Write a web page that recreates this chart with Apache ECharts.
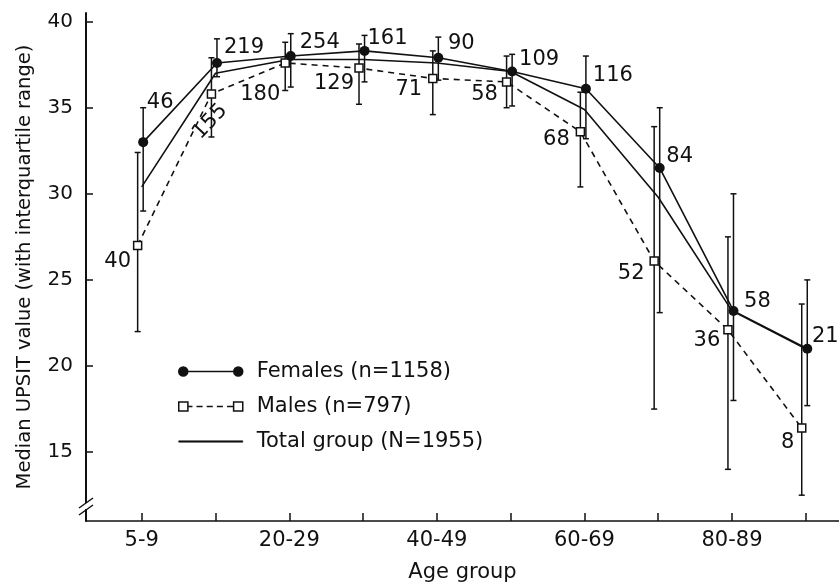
<!DOCTYPE html>
<html>
<head>
<meta charset="utf-8">
<script src="https://cdn.jsdelivr.net/npm/echarts@6/dist/echarts.min.js"></script>
<style>
html,body{margin:0;padding:0;background:#fff;}
#chart{width:839px;height:588px;}
</style>
</head>
<body>
<div id="chart"></div>
<script>
const categories = ['5-9','10-19','20-29','30-39','40-49','50-59','60-69','70-79','80-89','90+'];
const xTickLabels = ['5-9','20-29','40-49','60-69','80-89'];
const yTicks = [15,20,25,30,35,40];

const femaleMedian = [33.0, 37.6, 38.0, 38.3, 37.9, 37.1, 36.1, 31.5, 23.2, 21.0];
const femaleQ1     = [29.0, 36.8, 36.2, 36.5, 36.6, 35.1, 33.2, 23.1, 18.0, 17.7];
const femaleQ3     = [35.0, 39.0, 39.3, 39.2, 39.1, 38.1, 38.0, 35.0, 30.0, 25.0];
const femaleN      = [46, 219, 254, 161, 90, 109, 116, 84, 58, 21];

const maleMedian = [27.0, 35.8, 37.6, 37.3, 36.7, 36.5, 33.6, 26.1, 22.1, 16.4];
const maleQ1     = [22.0, 33.3, 36.0, 35.2, 34.6, 35.0, 30.4, 17.5, 14.0, 12.5];
const maleQ3     = [32.4, 37.9, 38.8, 38.7, 38.3, 38.0, 35.9, 33.9, 27.5, 23.6];
const maleN      = [40, 155, 180, 129, 71, 58, 68, 52, 36, 8];

const totalMedian = [30.4, 37.0, 37.8, 37.8, 37.6, 37.1, 34.9, 29.8, 23.2, 21.0];

// ---- styling (kept apart from the data) ----
const FONT = 'DejaVu Sans';
const INK = '#111';
const femaleShift = 0.02, maleShift = -0.055;
const femaleLabelOffset = [[17,-40],[27,-15],[29,-14],[23,-12],[23,-14],[27,-12],[27,-13],[20,-11],[24,-9],[18,-12]];
const maleLabelOffset = [[-20,16],[-21,18],[-25,32],[-25,15],[-24,11],[-22,13],[-24,8],[-23,13],[-21,11],[-14,15]];
const maleLabelRotate = [0,47,0,0,0,0,0,0,0,0];

const femaleName = 'Females (n=1158)';
const maleName = 'Males (n=797)';
const totalName = 'Total group (N=1955)';

function errorBarRender(params, api) {
  const x = api.value(0), lo = api.value(1), hi = api.value(2);
  const a = api.coord([x, lo]), b = api.coord([x, hi]);
  const cap = 3;
  const st = {stroke: INK, lineWidth: 1.5};
  return {type:'group', children:[
    {type:'line', shape:{x1:a[0], y1:a[1], x2:b[0], y2:b[1]}, style:st},
    {type:'line', shape:{x1:a[0]-cap, y1:a[1], x2:a[0]+cap, y2:a[1]}, style:st},
    {type:'line', shape:{x1:b[0]-cap, y1:b[1], x2:b[0]+cap, y2:b[1]}, style:st}
  ]};
}

const femaleData = femaleMedian.map((v,i) => ({
  value:[i+femaleShift, v],
  label:{offset: femaleLabelOffset[i]}
}));
const maleData = maleMedian.map((v,i) => ({
  value:[i+maleShift, v],
  label:{offset: maleLabelOffset[i], rotate: maleLabelRotate[i]}
}));
const totalData = totalMedian.map((v,i) => [i, v]);
const femaleBars = femaleQ1.map((q,i) => [i+femaleShift, q, femaleQ3[i]]);
const maleBars = maleQ1.map((q,i) => [i+maleShift, q, maleQ3[i]]);

const labelStyle = {show:true, position:'inside', color:INK, fontFamily:FONT, fontSize:21, align:'center', verticalAlign:'middle'};

const chart = echarts.init(document.getElementById('chart'), null, {renderer:'canvas'});
chart.setOption({
  animation:false,
  backgroundColor:'#fff',
  textStyle:{fontFamily:FONT, color:INK},
  grid:{left:86, right:0, top:13, bottom:65, containLabel:false},
  legend:{
    orient:'vertical', left:173, top:356, itemWidth:64, itemHeight:10, itemGap:14,
    textStyle:{fontFamily:FONT, fontSize:21, color:INK, padding:[0,0,0,9]},
    data:[
      {name:femaleName, icon:'path://M0,5A4.5,4.5 0 1,0 9,5A4.5,4.5 0 1,0 0,5ZM9,5L55,5M55,5A4.5,4.5 0 1,0 64,5A4.5,4.5 0 1,0 55,5Z',
        itemStyle:{color:INK, borderColor:INK, borderWidth:1.5}},
      {name:maleName, icon:'path://M0.5,0.5L9.5,0.5L9.5,9.5L0.5,9.5ZM9.5,5L14,5M18,5L24,5M28,5L34,5M38,5L44,5M48,5L54.5,5M54.5,0.5L63.5,0.5L63.5,9.5L54.5,9.5Z',
        itemStyle:{color:'#fff', borderColor:INK, borderWidth:1.5}},
      {name:totalName, icon:'path://M4,4.4L60,4.4L60,5.6L4,5.6Z',
        itemStyle:{color:INK, borderColor:INK, borderWidth:0.6}}
    ]
  },
  xAxis:{
    type:'value', min:-0.755, max:9.45,
    name:'Age group', nameLocation:'middle', nameGap:41,
    nameTextStyle:{fontFamily:FONT, fontSize:21, color:INK},
    axisLine:{show:true, onZero:false, lineStyle:{color:INK, width:1.5}},
    axisTick:{show:true, inside:true, length:8, customValues:categories.map((c,i)=>i), lineStyle:{color:INK, width:1.5}},
    axisLabel:{customValues:xTickLabels.map(t=>categories.indexOf(t)), formatter:v=>categories[Math.round(v)],
      fontFamily:FONT, fontSize:21, color:INK, margin:9},
    splitLine:{show:false}
  },
  yAxis:{
    type:'value', min:11, max:40.5,
    name:'Median UPSIT value (with interquartile range)', nameLocation:'middle', nameGap:51,
    nameTextStyle:{fontFamily:FONT, fontSize:19.5, color:INK},
    axisLine:{show:true, onZero:false, lineStyle:{color:INK, width:2}},
    axisTick:{show:true, inside:true, length:7, customValues:yTicks, lineStyle:{color:INK, width:1.5}},
    axisLabel:{customValues:yTicks, fontFamily:FONT, fontSize:20, color:INK, margin:13},
    splitLine:{show:false}
  },
  graphic:[
    {type:'rect', shape:{x:82, y:503, width:8, height:6}, style:{fill:'#fff'}, z:100},
    {type:'line', shape:{x1:79, y1:508, x2:93, y2:498}, style:{stroke:INK, lineWidth:1.5}, z:101},
    {type:'line', shape:{x1:79, y1:515, x2:93, y2:505}, style:{stroke:INK, lineWidth:1.5}, z:101}
  ],
  series:[
    {type:'custom', name:'femaleIQR', renderItem:errorBarRender, data:femaleBars, encode:{x:0, y:[1,2]}, z:1, silent:true},
    {type:'custom', name:'maleIQR', renderItem:errorBarRender, data:maleBars, encode:{x:0, y:[1,2]}, z:1, silent:true},
    {type:'line', name:totalName, data:totalData, showSymbol:false, symbol:'none',
      lineStyle:{color:INK, width:1.6}, itemStyle:{color:INK}, z:2},
    {type:'line', name:maleName, data:maleData, symbol:'rect', symbolSize:8,
      lineStyle:{color:INK, width:1.6, type:[6,5]}, itemStyle:{color:'#fff', borderColor:INK, borderWidth:1.5},
      label:Object.assign({}, labelStyle, {formatter:p=>String(maleN[p.dataIndex])}), z:3},
    {type:'line', name:femaleName, data:femaleData, symbol:'circle', symbolSize:10,
      lineStyle:{color:INK, width:1.6}, itemStyle:{color:INK, borderColor:INK, borderWidth:0},
      label:Object.assign({}, labelStyle, {formatter:p=>String(femaleN[p.dataIndex])}), z:4}
  ]
});
</script>
</body>
</html>
